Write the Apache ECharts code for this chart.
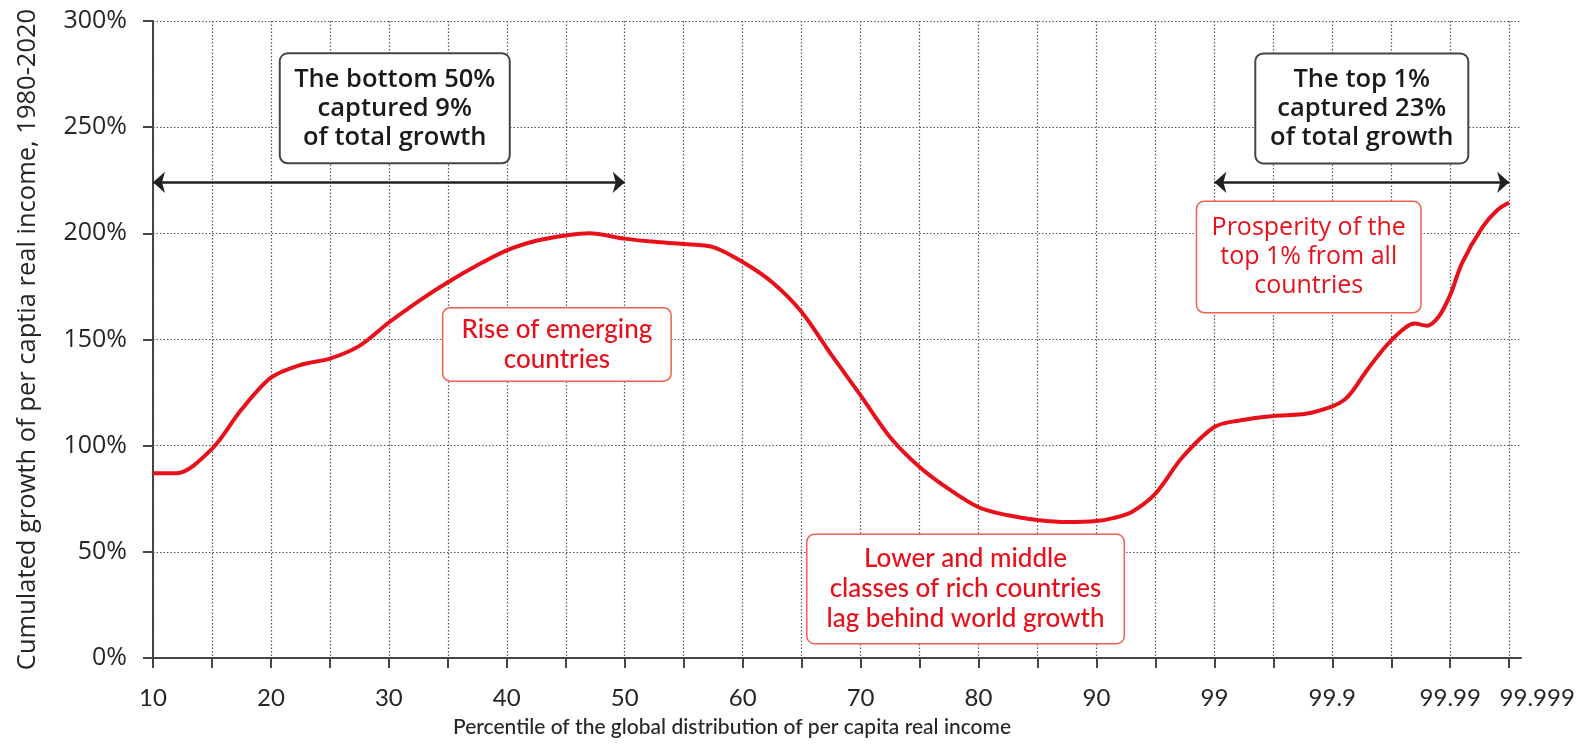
<!DOCTYPE html>
<html>
<head>
<meta charset="utf-8">
<script src="https://cdn.jsdelivr.net/npm/echarts@6/dist/echarts.min.js"></script>
<style>
  html, body { margin: 0; padding: 0; background: #fff; }
  #chart { width: 1592px; height: 747px; }
</style>
</head>
<body>
<div id="chart"></div>
<script>
// ── Data ────────────────────────────────────────────────────────────────────
// x is the position along the percentile axis, one unit per tick:
// 0 = p10, 2 = p20 ... 16 = p90, 18 = p99, 20 = p99.9, 22 = p99.99, 23 = p99.999
var xPos = [0, 0.4, 1, 1.5, 2, 2.5, 3, 3.5, 4, 4.5, 5, 5.5, 6, 6.5, 7, 7.4, 8, 8.5, 9,
            9.5, 10, 10.5, 11, 11.5, 12, 12.5, 13, 13.5, 14, 14.5, 15, 15.5, 16, 16.3, 16.6, 17,
            17.45, 18, 18.45, 19, 19.55, 20, 20.2, 20.35, 20.6, 21, 21.4, 21.6, 21.8, 22, 22.2,
            22.55, 22.8, 23];
// cumulated real income growth 1980-2020, %
var growth = [87, 87, 98.5, 117, 132, 138, 141, 147, 158, 168, 177, 185, 192, 196.5, 199, 200,
              197.5, 196, 195, 193.5, 186.5, 177, 163, 143, 123.7, 104, 90, 79.5, 71, 67.2, 65, 64,
              64.5, 66, 68.8, 77.4, 94.3, 108.8, 112, 114, 115, 118.5, 121.5, 126, 136, 149.6,
              157.5, 156.5, 160.6, 171, 186, 203, 211, 214.5];

var tickPos   = [0, 1, 2, 3, 4, 5, 6, 7, 8, 9, 10, 11, 12, 13, 14, 15, 16, 17, 18, 19, 20, 21, 22, 23];
var labelPos  = [0, 2, 4, 6, 8, 10, 12, 14, 16, 18, 20, 22, 23];
var labelText = ['10', '20', '30', '40', '50', '60', '70', '80', '90', '99', '99.9', '99.99', '99.999'];

// bracket arrows: [from x, to x, level %]
var arrows = [[0, 8, 224], [18, 23, 224]];

// text boxes: text, centre [x, %], kind
var notes = [
  { text: 'The bottom 50%\ncaptured 9%\nof total growth', at: [4.1, 258.9], kind: 'black', w: 228, h: 108 },
  { text: 'The top 1%\ncaptured 23%\nof total growth', at: [20.5, 258.8], kind: 'black', w: 211, h: 108 },
  { text: 'Prosperity of the\ntop 1% from all\ncountries', at: [19.6, 188.9], kind: 'red', w: 223, h: 110 },
  { text: 'Rise of emerging\ncountries', at: [6.85, 147.7], kind: 'red2', w: 227, h: 72 },
  { text: 'Lower and middle\nclasses of rich countries\nlag behind world growth', at: [13.78, 32.5], kind: 'red2', w: 316, h: 108 }
];

// ── Style ───────────────────────────────────────────────────────────────────
var RED = '#e8101a';
var INK = '#262626';
var GRIDC = '#555555';
var FONT = "'Open Sans', sans-serif";
var FONT2 = "Lato, sans-serif";

function noteLabel(n) {
  var lines = n.text.split('\n').length;
  var lh = 29;
  var padV = Math.max(0, (n.h - lines * lh) / 2);
  var base = {
    show: true,
    position: 'inside',
    formatter: n.text,
    width: n.w,
    align: 'center',
    lineHeight: lh,
    padding: [padV, 0, padV, 0],
    backgroundColor: '#ffffff',
    borderWidth: 2,
    borderRadius: 7
  };
  if (n.kind === 'black') {
    base.color = '#1a1a1a';
    base.fontFamily = FONT;
    base.fontWeight = 600;
    base.fontSize = 25.5;
    base.borderColor = '#444444';
  } else if (n.kind === 'red') {
    base.color = RED;
    base.fontFamily = FONT;
    base.fontWeight = 500;
    base.fontSize = 25;
    base.borderColor = '#f0604d';
    base.borderWidth = 1.5;
  } else {
    base.color = RED;
    base.fontFamily = FONT2;
    base.fontWeight = 500;
    base.fontSize = 26;
    base.lineHeight = 30;
    base.padding = [(n.h - lines * 30) / 2, 0, (n.h - lines * 30) / 2, 0];
    base.borderColor = '#f0604d';
    base.borderWidth = 1.5;
  }
  return base;
}

var chart = echarts.init(document.getElementById('chart'), null, { renderer: 'canvas' });

chart.setOption({
  backgroundColor: '#ffffff',
  animation: false,
  grid: { left: 153, right: 71, top: 21, bottom: 89 },
  xAxis: {
    type: 'value',
    min: 0,
    max: 23.2,
    name: 'Percentile of the global distribution of per capita real income',
    nameLocation: 'middle',
    nameGap: 59,
    nameTextStyle: { color: INK, fontFamily: FONT2, fontSize: 21, fontWeight: 500, padding: [0, 210, 0, 0] },
    axisLine: { lineStyle: { color: '#444', width: 2 } },
    axisTick: { length: 10, lineStyle: { color: '#444', width: 2 }, customValues: tickPos },
    axisLabel: {
      customValues: labelPos,
      hideOverlap: false,
      margin: 28,
      color: INK,
      fontFamily: FONT2,
      fontSize: 24,
      formatter: function (v) {
        var i = labelPos.indexOf(v);
        if (i < 0) return '';
        return i === labelPos.length - 1 ? '{r|' + labelText[i] + '}' : labelText[i];
      },
      rich: { r: { color: INK, fontFamily: FONT2, fontSize: 24, padding: [0, 0, 0, 56] } }
    },
    splitLine: { show: true, lineStyle: { color: GRIDC, width: 1.2, type: [1.5, 2] } }
  },
  yAxis: {
    type: 'value',
    min: 0,
    max: 300,
    interval: 50,
    name: 'Cumulated growth of per captia real income, 1980-2020',
    nameLocation: 'middle',
    nameGap: 112,
    nameTextStyle: { color: INK, fontFamily: FONT, fontSize: 25.5 },
    axisLine: { show: true, lineStyle: { color: '#444', width: 2 } },
    axisTick: { show: true, length: 10, lineStyle: { color: '#444', width: 2 } },
    axisLabel: {
      margin: 26,
      color: INK,
      fontFamily: FONT,
      fontSize: 25,
      formatter: function (v) { return v + '%'; }
    },
    splitLine: { show: true, lineStyle: { color: GRIDC, width: 1.2, type: [1.5, 2] } }
  },
  series: [{
    type: 'line',
    data: xPos.map(function (x, i) { return [x, growth[i]]; }),
    smooth: 0.3,
    symbol: 'none',
    lineStyle: { color: RED, width: 4 },
    z: 3,
    markLine: {
      silent: true,
      animation: false,
      symbol: ['arrow', 'arrow'],
      symbolSize: [16, 12],
      label: { show: false },
      lineStyle: { color: '#222', width: 2.5, type: 'solid' },
      data: arrows.map(function (a) {
        return [{ coord: [a[0], a[2]] }, { coord: [a[1], a[2]] }];
      })
    },
    markPoint: {
      silent: true,
      animation: false,
      symbol: 'rect',
      symbolSize: 0,
      data: notes.map(function (n) {
        return { coord: n.at, label: noteLabel(n) };
      })
    }
  }]
});
</script>
</body>
</html>
